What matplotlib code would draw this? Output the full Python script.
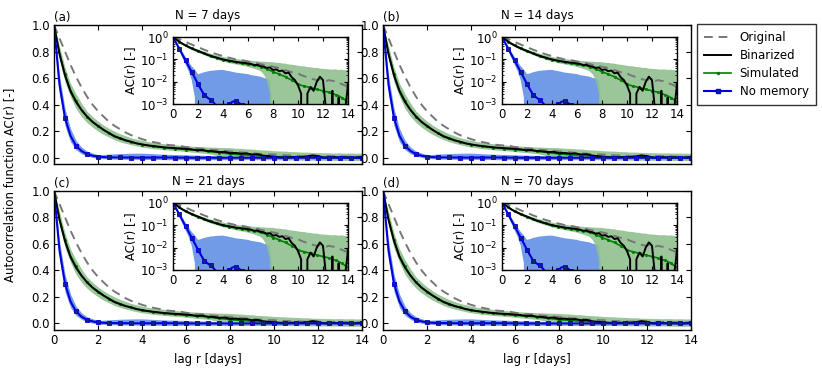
import numpy as np
import matplotlib
matplotlib.use("Agg")
import matplotlib.pyplot as plt

# ---------------- data ----------------
lag = np.arange(0, 14.001, 0.25)          # days

original = [1.0, 0.9, 0.8, 0.7, 0.61, 0.53, 0.46, 0.40, 0.35, 0.31, 0.27, 0.24,
            0.215, 0.19, 0.17, 0.155, 0.14, 0.128, 0.118, 0.11, 0.10, 0.095, 0.092,
            0.088, 0.08, 0.076, 0.07, 0.068, 0.062, 0.058, 0.055, 0.052, 0.047,
            0.045, 0.04, 0.037, 0.033, 0.03, 0.027, 0.025, 0.024, 0.02, 0.018,
            0.016, 0.014, 0.013, 0.012, 0.013, 0.012, 0.011, 0.012, 0.011, 0.011,
            0.009, 0.008, 0.007, 0.006]

binarized = [1.0, 0.78, 0.62, 0.50, 0.42, 0.36, 0.31, 0.27, 0.24, 0.21, 0.185,
             0.16, 0.145, 0.13, 0.12, 0.108, 0.10, 0.093, 0.088, 0.083, 0.078,
             0.075, 0.072, 0.07, 0.066, 0.063, 0.056, 0.058, 0.05, 0.048, 0.042,
             0.044, 0.034, 0.036, 0.03, 0.032, 0.024, 0.026, 0.016, 0.012, 0.007,
             0.003, -0.001, 0.003, 0.006, 0.004, 0.010, 0.017, 0.012, 0.0005,
             -0.002, 0.004, -0.001, 0.002, -0.002, 0.0005, 0.007]

simulated = [1.0, 0.79, 0.63, 0.51, 0.43, 0.36, 0.31, 0.27, 0.235, 0.21, 0.185,
             0.165, 0.148, 0.133, 0.12, 0.108, 0.099, 0.092, 0.086, 0.08, 0.076,
             0.072, 0.068, 0.064, 0.061, 0.058, 0.055, 0.052, 0.048, 0.043, 0.038,
             0.033, 0.028, 0.025, 0.022, 0.019, 0.017, 0.014, 0.012, 0.01, 0.008,
             0.007, 0.0065, 0.006, 0.0055, 0.005, 0.0047, 0.0043, 0.004, 0.0037,
             0.0034, 0.003, 0.0027, 0.0024, 0.002, 0.0016, 0.0013]

no_memory = [1.0, 0.55, 0.30, 0.165, 0.09, 0.05, 0.027, 0.015, 0.008, 0.0045,
             0.0026, 0.002, 0.0016, 0.0012, 0.0008, 0.0004, 0.0003, 0.0007,
             0.0010, 0.0013, 0.0014, 0.0012, 0.0009, 0.0005, 0.0001, -0.0003,
             -0.0005, -0.0004, -0.0006, -0.0005, -0.0004, -0.0006, -0.0005,
             -0.0004, -0.0005, -0.0006, -0.0004, -0.0005, -0.0006, -0.0005,
             -0.0004, -0.0005, -0.0006, -0.0005, -0.0004, -0.0005, -0.0005,
             -0.0004, -0.0006, -0.0005, -0.0004, -0.0005, -0.0006, -0.0005,
             -0.0004, -0.0005, -0.0005]

# ensemble envelopes (simulated realisations), same lag grid
sim_lo = [1.0, 0.74, 0.57, 0.46, 0.37, 0.31, 0.265, 0.23, 0.2, 0.175, 0.155,
          0.135, 0.12, 0.108, 0.098, 0.088, 0.08, 0.074, 0.068, 0.064, 0.06,
          0.056, 0.053, 0.05, 0.046, 0.042, 0.038, 0.034, 0.03, 0.022, 0.012,
          0.003, -0.006, -0.008, -0.009, -0.01, -0.011, -0.012, -0.013, -0.014,
          -0.015, -0.015, -0.016, -0.017, -0.017, -0.018, -0.018, -0.019,
          -0.019, -0.02, -0.02, -0.02, -0.021, -0.021, -0.022, -0.022, -0.022]
sim_hi = [1.0, 0.84, 0.68, 0.56, 0.48, 0.41, 0.35, 0.31, 0.275, 0.245, 0.22,
          0.2, 0.18, 0.165, 0.15, 0.14, 0.13, 0.122, 0.115, 0.11, 0.105, 0.1,
          0.097, 0.093, 0.09, 0.087, 0.084, 0.082, 0.08, 0.079, 0.077, 0.076,
          0.075, 0.071, 0.07, 0.066, 0.065, 0.06, 0.058, 0.056, 0.052, 0.05,
          0.049, 0.046, 0.045, 0.042, 0.042, 0.039, 0.038, 0.037, 0.036, 0.035,
          0.036, 0.034, 0.035, 0.033, 0.034]

nm_lo = [1.0, 0.48, 0.24, 0.12, 0.06, 0.03, 0.012, 0.002, -0.006, -0.008,
         -0.01, -0.011, -0.012, -0.012, -0.013, -0.013, -0.014, -0.014, -0.014,
         -0.014, -0.015, -0.015, -0.015, -0.015, -0.015, -0.015, -0.015, -0.015,
         -0.015, -0.015, -0.015, -0.015, -0.015, -0.015, -0.015, -0.015, -0.015,
         -0.015, -0.015, -0.015, -0.015, -0.015, -0.015, -0.015, -0.015, -0.015,
         -0.015, -0.015, -0.015, -0.015, -0.015, -0.015, -0.015, -0.015, -0.015,
         -0.015, -0.015]
nm_hi = [1.0, 0.62, 0.37, 0.22, 0.13, 0.08, 0.05, 0.035, 0.022, 0.024, 0.027,
         0.029, 0.031, 0.032, 0.033, 0.034, 0.034, 0.032, 0.03, 0.028, 0.026,
         0.025, 0.024, 0.023, 0.022, 0.02, 0.019, 0.018, 0.017, 0.015, 0.014,
         0.012, 0.0006, 0.0005, 0.0005, 0.0005, 0.0005, 0.0005, 0.0005, 0.0005,
         0.0005, 0.0005, 0.0005, 0.0005, 0.0005, 0.0005, 0.0005, 0.0005, 0.0005,
         0.0005, 0.0005, 0.0005, 0.0005, 0.0005, 0.0005, 0.0005, 0.0005]

panel_labels = ["(a)", "(b)", "(c)", "(d)"]
titles = ["N = 7 days", "N = 14 days", "N = 21 days", "N = 70 days"]
legend_labels = ["Original", "Binarized", "Simulated", "No memory"]

# ---------------- style ----------------
FS = 8.5
plt.rcParams.update({
    "font.family": "DejaVu Sans",
    "font.size": FS,
    "axes.linewidth": 1.0,
    "xtick.direction": "in",
    "ytick.direction": "in",
    "xtick.top": True,
    "ytick.right": True,
    "xtick.major.size": 3.5,
    "ytick.major.size": 3.5,
    "xtick.minor.size": 1.8,
    "ytick.minor.size": 1.8,
    "xtick.major.pad": 3,
    "ytick.major.pad": 3,
})

GREEN_BAND = "#8fc08f"
BLUE_BAND = "#6a96e6"


def draw(ax):
    ax.fill_between(lag, nm_lo, nm_hi, color=BLUE_BAND, lw=0, alpha=0.95)
    ax.fill_between(lag, sim_lo, sim_hi, color=GREEN_BAND, lw=0, alpha=0.9)
    ax.plot(lag, original, color="#777777", lw=1.4, dashes=(4.5, 3))
    ax.plot(lag, simulated, color="#008000", lw=1.2, marker=".", ms=2.5,
            markevery=(2, 2))
    ax.plot(lag, binarized, color="black", lw=1.4)
    ax.plot(lag, no_memory, color="#0000dd", lw=1.5, marker="s", ms=3.5,
            mfc="#1c1c7a", mec="#0000dd", mew=0.6, markevery=(2, 2))


fig = plt.figure(figsize=(8.22, 3.75), dpi=100)
W, H = 822.0, 375.0
lefts = [54, 383]
tops = [25, 190.7]
aw, ah = 308.0, 139.3

for i in range(4):
    r, c = divmod(i, 2)
    l, t = lefts[c], tops[r]
    ax = fig.add_axes([l / W, 1 - (t + ah) / H, aw / W, ah / H])
    draw(ax)
    ax.set_xlim(0, 14)
    ax.set_ylim(-0.05, 1.0)
    ax.set_xticks(range(0, 15, 2))
    ax.set_yticks([0.0, 0.2, 0.4, 0.6, 0.8, 1.0])
    if r == 0:
        ax.set_xticklabels([])
    else:
        ax.set_xlabel("lag r [days]", labelpad=4)
    ax.set_title(titles[i], fontsize=FS, pad=4)
    ax.text(0.0, 1.005, panel_labels[i], transform=ax.transAxes, ha="left",
            va="bottom", fontsize=FS)

    # inset
    il = l + 119
    it = t + 12
    iw, ih = 175.0, 67.3
    ins = fig.add_axes([il / W, 1 - (it + ih) / H, iw / W, ih / H])
    draw(ins)
    ins.set_yscale("log")
    ins.set_xlim(0, 14)
    ins.set_ylim(1e-3, 1.0)
    ins.set_xticks(range(0, 15, 2))
    ins.set_yticks([1e-3, 1e-2, 1e-1, 1e0])
    ins.set_ylabel("AC(r) [-]", labelpad=2)
    ins.tick_params(axis="both", which="major", length=3)
    ins.tick_params(axis="both", which="minor", length=1.5)

fig.text(0.013, 0.507, "Autocorrelation function AC(r) [-]", rotation=90,
         ha="center", va="center", fontsize=FS)

handles = [
    plt.Line2D([], [], color="#777777", lw=1.4, dashes=(4.5, 3)),
    plt.Line2D([], [], color="black", lw=1.4),
    plt.Line2D([], [], color="#008000", lw=1.2, marker=".", ms=3),
    plt.Line2D([], [], color="#0000dd", lw=1.5, marker="s", ms=3,
               mfc="#1c1c7a", mec="#0000dd"),
]
leg = fig.legend(handles, legend_labels, loc="upper left",
                 bbox_to_anchor=(697 / W, 1 - 24 / H), fontsize=FS,
                 frameon=True, fancybox=False, edgecolor="black",
                 handlelength=2.3, labelspacing=0.42, borderpad=0.6,
                 handletextpad=0.7, borderaxespad=0.0)
leg.get_frame().set_linewidth(1.0)

fig.savefig("out.png", dpi=100)
